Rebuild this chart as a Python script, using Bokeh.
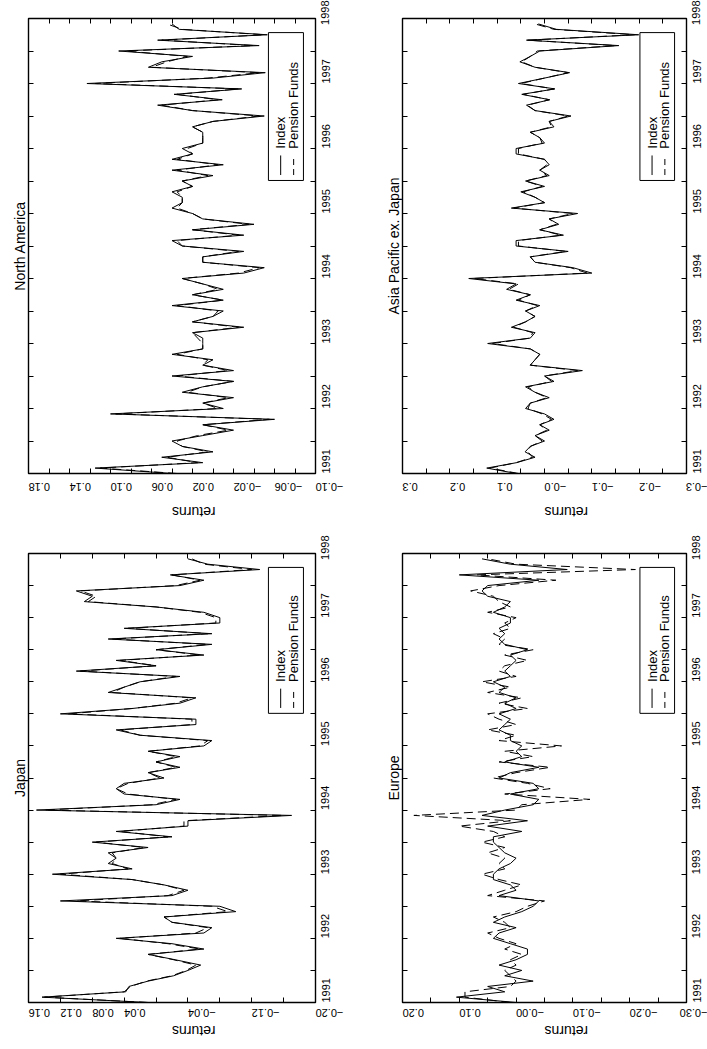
import math
from bokeh.plotting import figure
from bokeh.models import Range1d, LinearAxis, FixedTicker, Title
from bokeh.layouts import column, row
from bokeh.embed import file_html
from bokeh.resources import INLINE
from bokeh.core.properties import value

FONT = "Liberation Sans"
MINUS = "\u2212"

# monthly observations, Jan 1991 .. Dec 1997
months = [1991 + i / 12 for i in range(84)]

na_index = [0.04, 0.115, 0.01, 0.05, 0.00, 0.03, 0.04, 0.01, -0.02, 0.01, -0.06, 0.10,
            -0.01, 0.01, -0.02, 0.03, 0.01, -0.02, 0.04, -0.02, 0.01, 0.00, 0.04, 0.01,
            0.01, 0.01, 0.02, -0.03, 0.02, 0.00, -0.01, 0.04, -0.01, 0.02, -0.01, 0.01,
            0.03, -0.03, -0.05, 0.01, 0.01, -0.03, 0.03, 0.04, -0.03, 0.02, -0.04, 0.01,
            0.02, 0.04, 0.03, 0.03, 0.04, 0.02, 0.03, 0.00, 0.04, -0.01, 0.04, 0.02,
            0.03, 0.01, 0.01, 0.01, 0.02, 0.00, -0.05, 0.02, 0.054, -0.009, 0.038, -0.028,
            0.123, 0.00, -0.051, 0.063, 0.05, 0.02, 0.092, -0.045, 0.054, -0.053, 0.033, 0.04]
na_pension = [0.035, 0.11, 0.015, 0.045, 0.005, 0.03, 0.035, 0.015, -0.015, 0.01, -0.055, 0.095,
              -0.005, 0.01, -0.015, 0.025, 0.01, -0.02, 0.035, -0.015, 0.01, 0.005, 0.035, 0.01,
              0.01, 0.015, 0.02, -0.025, 0.02, 0.00, -0.005, 0.035, -0.01, 0.02, -0.005, 0.01,
              0.03, -0.025, -0.045, 0.01, 0.01, -0.025, 0.03, 0.035, -0.025, 0.02, -0.035, 0.01,
              0.02, 0.035, 0.03, 0.03, 0.035, 0.02, 0.03, 0.005, 0.035, -0.005, 0.035, 0.02,
              0.025, 0.01, 0.01, 0.01, 0.02, 0.00, -0.045, 0.02, 0.05, -0.005, 0.035, -0.025,
              0.115, 0.005, -0.045, 0.06, 0.045, 0.025, 0.085, -0.04, 0.05, -0.05, 0.03, 0.045]

as_index = [0.059, 0.122, 0.059, 0.02, 0.041, 0.03, 0.00, 0.02, -0.01, 0.01, -0.02, 0.00,
            0.04, 0.03, -0.01, 0.02, 0.04, -0.02, 0.00, -0.08, 0.03, 0.02, 0.01, 0.03,
            0.12, 0.03, 0.02, 0.07, 0.04, 0.02, 0.04, 0.01, 0.06, 0.03, 0.08, 0.06,
            0.16, -0.10, -0.06, 0.02, 0.03, -0.05, 0.06, 0.06, -0.04, 0.01, -0.03, -0.01,
            -0.07, 0.07, 0.00, 0.02, 0.05, 0.00, 0.04, -0.01, 0.01, -0.01, 0.00, 0.06,
            0.06, 0.00, 0.01, 0.03, -0.02, -0.01, -0.056, 0.02, 0.038, -0.011, 0.048, -0.022,
            0.055, 0.00, -0.053, 0.02, 0.052, 0.03, 0.010, -0.157, 0.038, -0.199, -0.025, 0.013]
as_pension = [0.055, 0.115, 0.06, 0.025, 0.035, 0.03, 0.005, 0.02, -0.005, 0.01, -0.015, 0.005,
              0.035, 0.03, -0.005, 0.02, 0.035, -0.015, 0.00, -0.07, 0.03, 0.02, 0.01, 0.03,
              0.11, 0.03, 0.025, 0.065, 0.04, 0.02, 0.04, 0.015, 0.055, 0.03, 0.075, 0.055,
              0.15, -0.09, -0.055, 0.02, 0.03, -0.045, 0.055, 0.055, -0.035, 0.01, -0.025, -0.01,
              -0.06, 0.065, 0.00, 0.02, 0.045, 0.005, 0.04, -0.005, 0.01, -0.005, 0.00, 0.055,
              0.055, 0.005, 0.01, 0.03, -0.015, -0.01, -0.05, 0.02, 0.036, -0.01, 0.045, -0.02,
              0.05, 0.00, -0.05, 0.02, 0.048, 0.03, 0.015, -0.15, 0.035, -0.19, -0.02, 0.02]

jp_index = [0.01, 0.143, 0.038, 0.034, 0.01, -0.022, -0.04, -0.056, -0.024, 0.01, -0.06, -0.02,
            0.05, -0.06, -0.07, -0.02, -0.01, -0.10, -0.08, 0.12, -0.02, -0.04, -0.01, 0.03,
            0.13, 0.03, 0.06, 0.05, 0.06, 0.01, 0.08, -0.02, 0.05, -0.04, -0.04, -0.17,
            0.15, 0.00, -0.03, 0.04, 0.05, 0.04, -0.01, 0.01, -0.03, 0.00, -0.03, 0.01,
            -0.06, -0.07, 0.02, 0.05, -0.05, -0.05, 0.12, 0.03, -0.03, -0.05, 0.06, 0.04,
            0.02, -0.03, 0.10, 0.00, 0.05, -0.06, 0.00, -0.07, 0.06, -0.07, 0.04, -0.08,
            -0.08, -0.06, 0.00, 0.09, 0.08, 0.10, -0.03, -0.06, -0.018, -0.13, -0.065, -0.04]
jp_pension = [0.01, 0.14, 0.04, 0.032, 0.012, -0.02, -0.038, -0.05, -0.022, 0.01, -0.055, -0.015,
              0.045, -0.05, -0.065, -0.02, -0.01, -0.09, -0.07, 0.10, -0.015, -0.035, -0.01, 0.03,
              0.12, 0.035, 0.055, 0.05, 0.055, 0.015, 0.075, -0.015, 0.045, -0.035, -0.035, -0.16,
              0.14, 0.005, -0.025, 0.035, 0.05, 0.035, -0.005, 0.01, -0.025, 0.00, -0.025, 0.01,
              -0.055, -0.065, 0.02, 0.045, -0.045, -0.045, 0.11, 0.03, -0.025, -0.045, 0.055, 0.04,
              0.02, -0.025, 0.095, 0.00, 0.045, -0.055, 0.00, -0.065, 0.055, -0.065, 0.035, -0.075,
              -0.075, -0.055, 0.00, 0.085, 0.075, 0.095, -0.025, -0.055, -0.02, -0.12, -0.06, -0.045]

eu_index = [0.00, 0.105, 0.02, 0.05, -0.03, 0.02, -0.01, 0.03, 0.00, -0.02, -0.02, 0.01,
            0.04, 0.03, 0.00, 0.04, 0.02, -0.01, -0.03, -0.04, 0.03, 0.00, 0.01, 0.04,
            0.04, 0.03, 0.01, 0.00, 0.02, 0.03, 0.04, 0.04, -0.01, 0.05, -0.02, 0.06,
            0.02, -0.03, -0.04, 0.01, -0.04, -0.03, 0.03, 0.01, -0.04, 0.02, -0.01, 0.00,
            -0.01, 0.01, 0.01, 0.03, 0.02, 0.01, 0.03, 0.00, 0.02, 0.00, 0.03, 0.02,
            0.04, 0.01, 0.02, 0.01, 0.00, 0.01, -0.02, 0.02, 0.03, 0.02, 0.03, 0.01,
            0.01, 0.04, 0.02, 0.01, 0.05, 0.06, 0.05, -0.04, 0.10, -0.09, 0.01, 0.06]
eu_pension = [0.01, 0.09, 0.09, 0.01, 0.00, 0.01, 0.02, 0.00, 0.01, -0.01, 0.02, 0.00,
              0.03, 0.05, 0.01, 0.02, 0.04, 0.00, -0.02, -0.05, 0.05, 0.02, -0.01, 0.03,
              0.06, 0.02, 0.03, 0.02, 0.05, 0.02, 0.06, 0.02, 0.04, 0.10, 0.01, 0.18,
              0.00, -0.01, -0.13, 0.02, -0.06, -0.02, 0.04, 0.00, -0.06, 0.03, -0.03, 0.02,
              -0.08, 0.03, 0.00, 0.05, 0.00, 0.03, 0.05, -0.02, 0.03, -0.01, 0.05, 0.01,
              0.06, 0.00, 0.03, 0.02, -0.02, 0.02, -0.03, 0.03, 0.02, 0.04, 0.01, 0.02,
              0.00, 0.05, 0.01, 0.03, 0.04, 0.08, 0.03, -0.07, 0.07, -0.21, 0.00, 0.05]

# axis definitions: (left value, right value, tick step, labelled ticks, decimals)
na_axis = (0.18, -0.10, 0.02, [0.18, 0.14, 0.10, 0.06, 0.02, -0.02, -0.06, -0.10], 2)
as_axis = (0.3, -0.3, 0.05, [0.3, 0.2, 0.1, 0.0, -0.1, -0.2, -0.3], 1)
jp_axis = (0.16, -0.20, 0.04, [0.16, 0.12, 0.08, 0.04, -0.04, -0.12, -0.20], 2)
eu_axis = (0.20, -0.30, 0.05, [0.20, 0.10, 0.0, -0.10, -0.20, -0.30], 2)

year_ticks = [1991 + 0.5 * i for i in range(15)]
year_labels = {t: (str(int(t)) if t == int(t) else "") for t in year_ticks}

HAS_LABEL_ORIENT = "axis_label_orientation" in LinearAxis.properties()


def fmt(v, nd):
    s = f"{abs(v):.{nd}f}"
    if v <= 0:
        return MINUS + s
    return s


def make_panel(title, idx, pen, axis, w, h, bl, br, bt, bb, leg, lab_standoff, ret_standoff):
    lo, hi, step, labelled, nd = axis
    n = int(round((lo - hi) / step))
    ticks = [round(hi + i * step, 4) for i in range(n + 1)]
    lab = {t: (fmt(t, nd) if any(abs(t - l) < 1e-9 for l in labelled) else "") for t in ticks}
    empty = {t: "" for t in ticks}

    p = figure(width=w, height=h, output_backend="svg", toolbar_location=None,
               x_range=Range1d(lo, hi), y_range=Range1d(1991, 1998),
               min_border_left=bl, min_border_right=br, min_border_top=bt, min_border_bottom=bb,
               x_axis_location=None, y_axis_location=None)
    p.grid.visible = False
    p.outline_line_color = "black"
    p.outline_line_width = 1.4
    p.background_fill_color = "white"
    p.border_fill_color = "white"

    def style(ax, labels, orient, size):
        ax.ticker = FixedTicker(ticks=list(labels.keys()))
        ax.major_label_overrides = labels
        ax.major_label_orientation = orient
        ax.major_tick_in = 5
        ax.major_tick_out = 0
        ax.major_tick_line_color = "black"
        ax.major_tick_line_width = 1
        ax.minor_tick_line_color = None
        ax.axis_line_color = None
        ax.major_label_text_font = FONT
        ax.major_label_text_font_size = size
        ax.major_label_text_color = "black"
        ax.major_label_standoff = 3

    xb = LinearAxis()
    style(xb, lab, math.pi, "11px")
    xb.major_label_standoff = lab_standoff
    xb.axis_label = "returns"
    xb.axis_label_text_font = FONT
    xb.axis_label_text_font_size = "14px"
    xb.axis_label_text_font_style = "normal"
    xb.axis_label_text_color = "black"
    xb.axis_label_standoff = ret_standoff
    if HAS_LABEL_ORIENT:
        xb.axis_label_orientation = math.pi
    p.add_layout(xb, "below")

    xt = LinearAxis()
    style(xt, empty, math.pi, "1px")
    xt.major_label_standoff = 0
    p.add_layout(xt, "above")

    yr = LinearAxis()
    style(yr, year_labels, math.pi / 2, "11px")
    yr.major_label_standoff = 10
    p.add_layout(yr, "right")

    yl = LinearAxis()
    style(yl, {t: "" for t in year_ticks}, math.pi / 2, "1px")
    yl.major_label_standoff = 0
    p.add_layout(yl, "left")

    p.add_layout(Title(text=title, align="center", text_font=FONT, text_font_size="14px",
                       text_font_style="normal", text_color="black", standoff=2), "left")

    # returns on the horizontal axis, time on the vertical axis
    p.line(idx, months, line_color="black", line_width=1)
    p.line(pen, months, line_color="black", line_width=1, line_dash="9 5")

    def X(frac):
        return lo + (hi - lo) * frac

    def Y(frac_top):
        return 1998 - 7 * frac_top

    # legend box (rotated like the rest of the page)
    x0, x1, t0, t1 = leg
    p.quad(left=[X(x0)], right=[X(x1)], top=[Y(t0)], bottom=[Y(t1)],
           fill_color="white", line_color="black", line_width=1)
    cx1 = X(x0 + (x1 - x0) * 0.35)
    cx2 = X(x0 + (x1 - x0) * 0.72)
    ls0 = Y(t1 - 0.012)
    ls1 = Y(t1 - 0.055)
    p.line([cx1, cx1], [ls0, ls1], line_color="black", line_width=1)
    p.line([cx2, cx2], [ls0, ls1], line_color="black", line_width=1, line_dash="6 4")
    tstart = Y(t1 - 0.07)
    p.text(x=[cx1, cx2], y=[tstart, tstart], text=["Index", "Pension Funds"],
           angle=math.pi / 2, text_align="left", text_baseline="middle",
           text_font=value(FONT), text_font_size="13px", text_color="black")
    return p


leg = (0.836, 0.958, 0.031, 0.356)
p1 = make_panel("North America", na_index, na_pension, na_axis, 354, 535, 28, 39, 18, 62, leg, 13, 14)
p2 = make_panel("Asia Pacific ex. Japan", as_index, as_pension, as_axis, 353, 535, 48, 18, 18, 62, leg, 13, 14)
p3 = make_panel("Japan", jp_index, jp_pension, jp_axis, 354, 514, 28, 39, 18, 41, leg, 10, 7)
p4 = make_panel("Europe", eu_index, eu_pension, eu_axis, 353, 514, 48, 18, 18, 41, leg, 10, 7)

layout = column(row(p1, p2), row(p3, p4))
open("out.html", "w").write(file_html(layout, INLINE))
